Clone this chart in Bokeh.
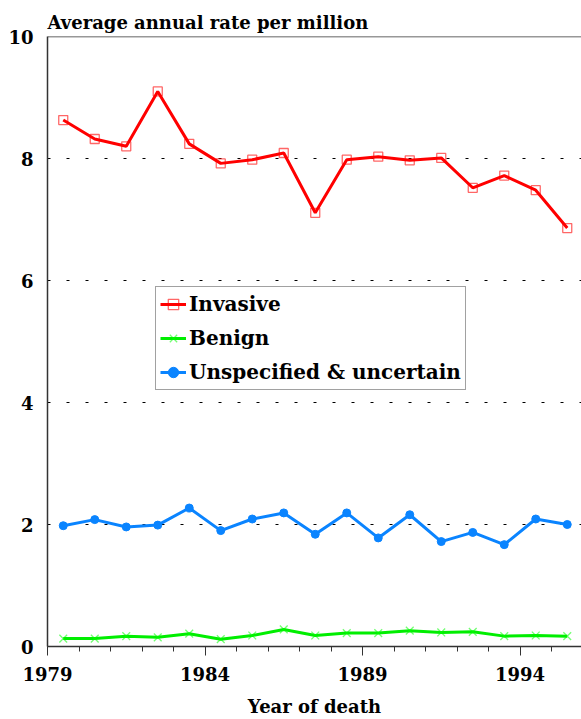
from bokeh.plotting import figure
from bokeh.models import Range1d, FixedTicker, Legend, LegendItem, Span
from bokeh.embed import file_html
from bokeh.resources import INLINE

years = [1979.5 + i for i in range(17)]
invasive = [8.63, 8.32, 8.20, 9.10, 8.24, 7.92, 7.98, 8.09, 7.11, 7.98, 8.03, 7.97, 8.01, 7.52, 7.72, 7.48, 6.86]
benign = [0.13, 0.13, 0.17, 0.15, 0.21, 0.12, 0.18, 0.28, 0.18, 0.22, 0.22, 0.26, 0.23, 0.24, 0.17, 0.18, 0.17]
unspecified = [1.98, 2.08, 1.96, 1.99, 2.27, 1.90, 2.09, 2.19, 1.84, 2.19, 1.78, 2.16, 1.72, 1.87, 1.67, 2.09, 2.00]
x_major = [1979, 1984, 1989, 1994]
x_minor = list(range(1979, 1996))
y_ticks = [0, 2, 4, 6, 8, 10]
labels = ["Invasive", "Benign", "Unspecified & uncertain"]

FONT = "DejaVu Serif"

p = figure(width=581, height=719, output_backend="svg", toolbar_location=None,
           x_range=Range1d(1979, 1979 + 534 / 31.5), y_range=Range1d(0, 10),
           min_border_left=47, min_border_right=0, min_border_top=36, min_border_bottom=72)
p.outline_line_color = None
p.title.text = "Average annual rate per million"
p.title.text_font = FONT
p.title.text_font_style = "bold"
p.title.text_font_size = "18px"
p.title.text_color = "black"
p.title.align = "left"
p.title.offset = 0
p.title.standoff = 8

p.xgrid.visible = False
p.ygrid.ticker = FixedTicker(ticks=[2, 4, 6, 8])
p.ygrid.grid_line_color = "black"
p.ygrid.grid_line_dash = "3 16"
p.ygrid.grid_line_width = 1

top = Span(location=10, dimension="width", line_color="#333333", line_width=1.5)
p.add_layout(top)

xa = p.xaxis[0]
xa.ticker = FixedTicker(ticks=x_major, minor_ticks=x_minor)
xa.major_tick_out = 9
xa.major_tick_in = 0
xa.minor_tick_out = 5
xa.minor_tick_in = 0
xa.major_label_standoff = 11
xa.axis_label = "Year of death"
xa.axis_label_standoff = 12
for a in (p.xaxis[0], p.yaxis[0]):
    a.axis_line_color = "#333333"
    a.axis_line_width = 1.5
    a.major_tick_line_color = "#333333"
    a.minor_tick_line_color = "#333333"
    a.major_label_text_font = FONT
    a.major_label_text_font_style = "bold"
    a.major_label_text_font_size = "18px"
    a.major_label_text_color = "black"
    a.axis_label_text_font = FONT
    a.axis_label_text_font_style = "bold"
    a.axis_label_text_font_size = "18px"
    a.axis_label_text_color = "black"

ya = p.yaxis[0]
ya.ticker = FixedTicker(ticks=y_ticks)
ya.major_tick_out = 0
ya.major_tick_in = 0
ya.minor_tick_out = 0
ya.minor_tick_in = 0
ya.major_tick_line_color = None
ya.minor_tick_line_color = None
ya.major_label_standoff = 14

r1 = p.line(years, invasive, line_color="#ff0000", line_width=3)
m1 = p.scatter(years, invasive, marker="square", size=9, fill_color=None,
               line_color="#ff0000", line_alpha=0.6, line_width=1.3)
r2 = p.line(years, benign, line_color="#00ee00", line_width=3)
m2 = p.scatter(years, benign, marker="x", size=11, line_color="#00ff00",
               line_alpha=0.55, line_width=1.3)
r3 = p.line(years, unspecified, line_color="#0a84ff", line_width=3)
m3 = p.scatter(years, unspecified, marker="circle", size=8, fill_color="#0a84ff",
               line_color="#0a84ff")

legend = Legend(items=[LegendItem(label=labels[0], renderers=[r1, m1]),
                       LegendItem(label=labels[1], renderers=[r2, m2]),
                       LegendItem(label=labels[2], renderers=[r3, m3])],
                location=(108, 256))
legend.label_text_font = FONT
legend.label_text_font_style = "bold"
legend.label_text_font_size = "20px"
legend.label_text_color = "black"
legend.label_height = 26
legend.glyph_height = 26
legend.glyph_width = 26
legend.spacing = 8
legend.padding = 4
legend.margin = 0
legend.label_standoff = 3
legend.border_line_color = "#444444"
legend.border_line_width = 1.5
legend.background_fill_color = "white"
legend.background_fill_alpha = 1
p.add_layout(legend, "center")

open("out.html", "w").write(file_html(p, INLINE))
